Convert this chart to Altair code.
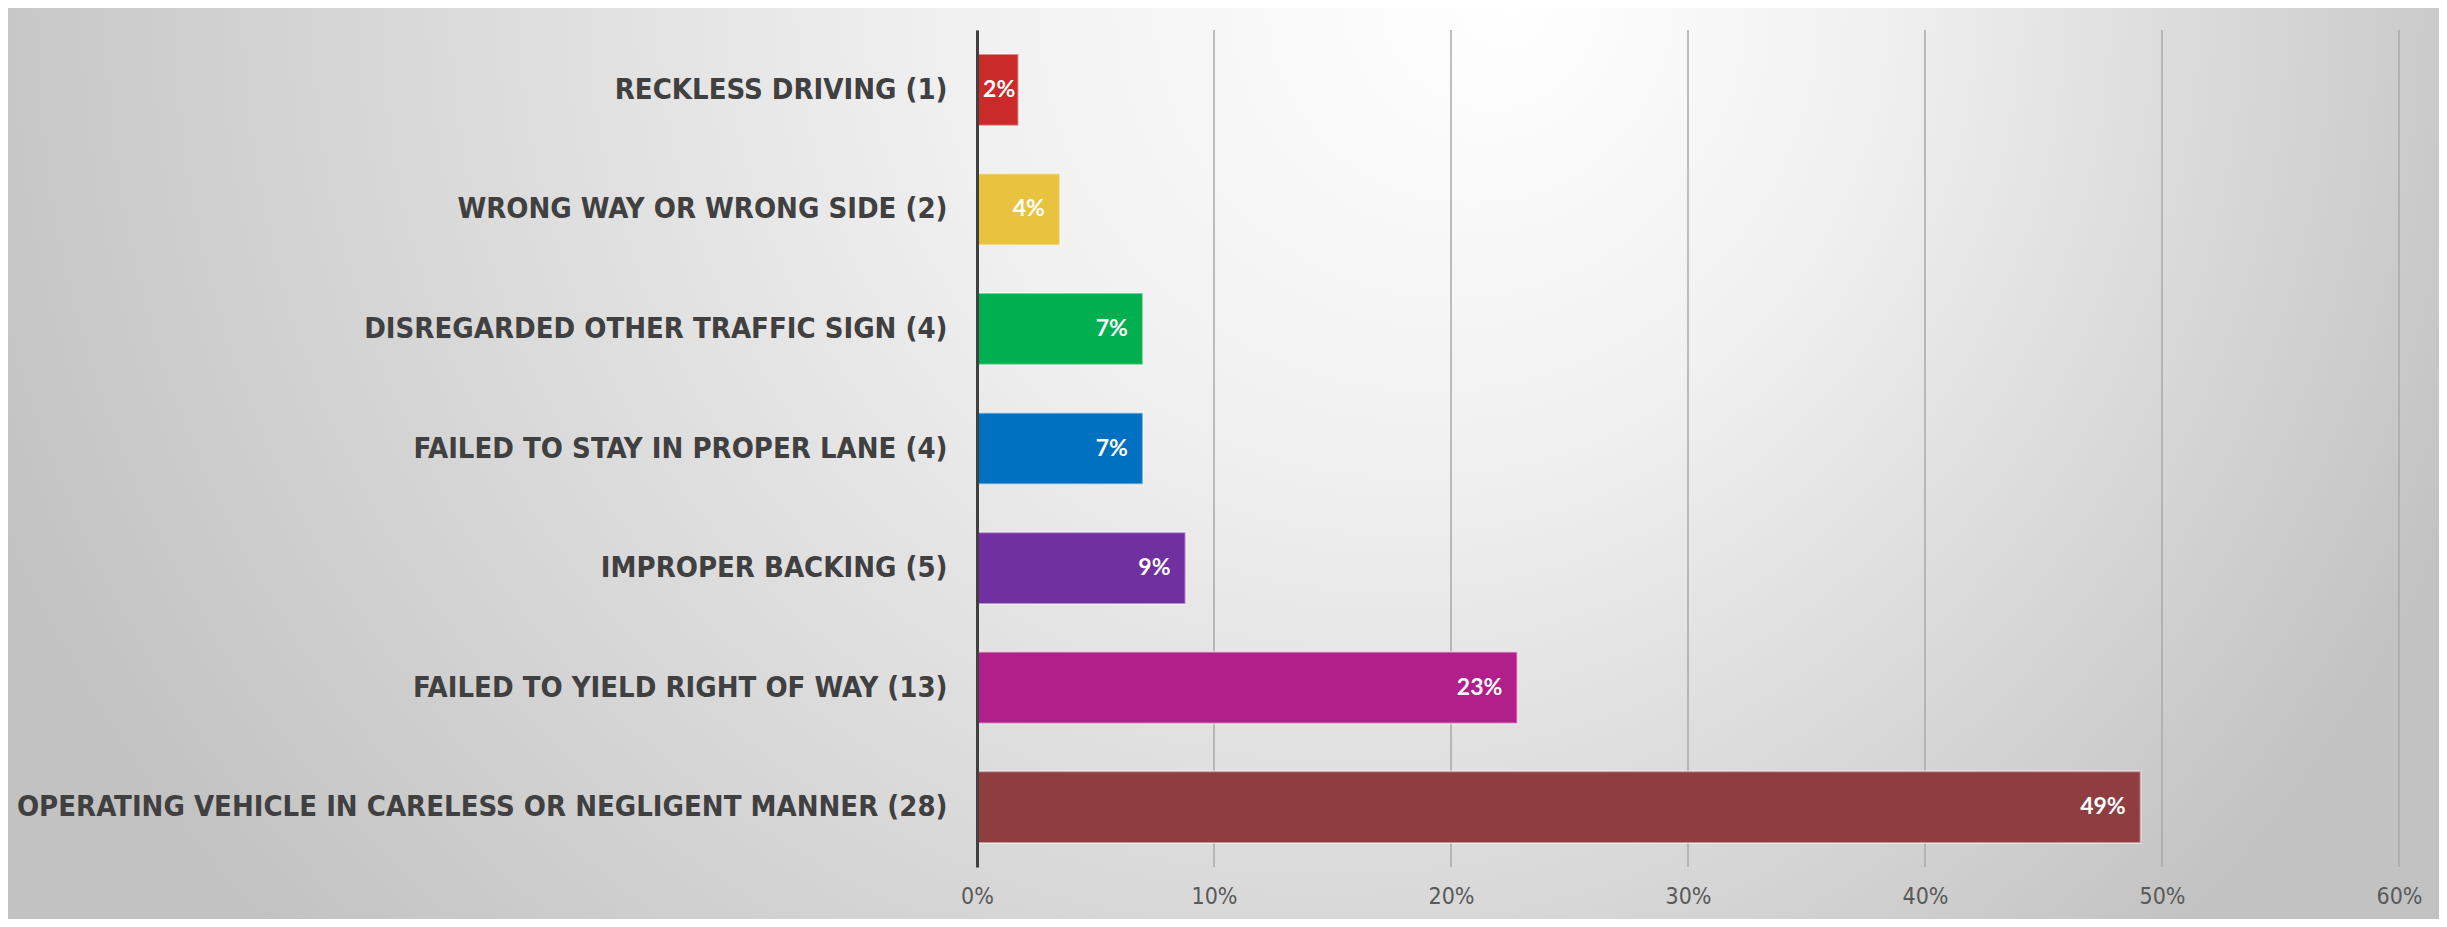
import altair as alt
import pandas as pd

categories = [
    "RECKLESS DRIVING (1)",
    "WRONG WAY OR WRONG SIDE (2)",
    "DISREGARDED OTHER TRAFFIC SIGN (4)",
    "FAILED TO STAY IN PROPER LANE (4)",
    "IMPROPER BACKING (5)",
    "FAILED TO YIELD RIGHT OF WAY (13)",
    "OPERATING VEHICLE IN CARELESS OR NEGLIGENT MANNER (28)",
]
values = [1.75, 3.5, 7.0, 7.0, 8.8, 22.8, 49.1]
labels = ["2%", "4%", "7%", "7%", "9%", "23%", "49%"]
colors = ["#CB2A2A", "#E9C33F", "#00B050", "#0070C0", "#7030A0", "#B01F8A", "#8E3E41"]
ticks = [0, 10, 20, 30, 40, 50, 60]

W, H = 1422, 837
PAD_L, PAD_T, PAD_R, PAD_B = 969, 22, 40, 52

df = pd.DataFrame({"cat": categories, "val": values, "lab": labels})
grid_df = pd.DataFrame({"t": ticks})

xscale = alt.Scale(domain=[0, 60], nice=False)
yscale = alt.Scale(domain=categories, paddingInner=0.4, paddingOuter=0.2)

xaxis = alt.Axis(title=None, values=ticks, grid=False, ticks=False, domain=False,
                 labelExpr="datum.value + '%'", labelFont="DejaVu Sans Condensed",
                 labelFontSize=23, labelColor="#595959", labelPadding=18,
                 labelFlush=False, zindex=1)

bg = alt.Chart(alt.Data(values=[{"a": 1}])).mark_rect(
    fill={
        "gradient": "radial",
        "x1": 0.62, "y1": 0.31, "r1": 0.0,
        "x2": 0.50, "y2": 0.31, "r2": 0.55,
        "stops": [
            {"offset": 0.0, "color": "#ffffff"},
            {"offset": 0.35, "color": "#f0f0f0"},
            {"offset": 1.0, "color": "#c2c2c2"},
        ],
    }
).encode(
    x=alt.value(-PAD_L),
    x2=alt.value(W + PAD_R),
    y=alt.value(-PAD_T),
    y2=alt.value(H + PAD_B),
)

grid = alt.Chart(grid_df).mark_rule(color="#a8a8a8", strokeWidth=1.5).encode(
    x=alt.X("t:Q", scale=xscale, axis=xaxis),
)

bars = alt.Chart(df).mark_bar(stroke="white", strokeOpacity=0.45, strokeWidth=2).encode(
    y=alt.Y("cat:N", sort=categories, scale=yscale,
            axis=alt.Axis(title=None, ticks=False, domain=True, domainColor="#404040",
                          domainWidth=3, labelFont="DejaVu Sans Condensed", labelFontSize=29,
                          labelFontWeight="bold", labelColor="#404040", labelPadding=30,
                          labelLimit=2000, zindex=2)),
    x=alt.X("val:Q", scale=xscale, axis=xaxis),
    color=alt.Color("cat:N", scale=alt.Scale(domain=categories, range=colors), legend=None),
)

text = alt.Chart(df).transform_calculate(
    xl="max(datum.val, 2.25)"
).mark_text(
    align="right", baseline="middle", dx=-15, color="white",
    font="Lato", fontSize=23, fontWeight="bold",
).encode(
    y=alt.Y("cat:N", sort=categories, scale=yscale),
    x=alt.X("xl:Q", scale=xscale),
    text="lab:N",
)

chart = alt.layer(bg, grid, bars, text).properties(
    width=W, height=H,
    autosize=alt.AutoSizeParams(type="none"),
    padding={"left": PAD_L, "top": PAD_T, "right": PAD_R, "bottom": PAD_B},
).configure_view(stroke=None).configure(background="#d8d8d8")

chart.save("out.html", embed_options={"renderer": "svg", "actions": False})
